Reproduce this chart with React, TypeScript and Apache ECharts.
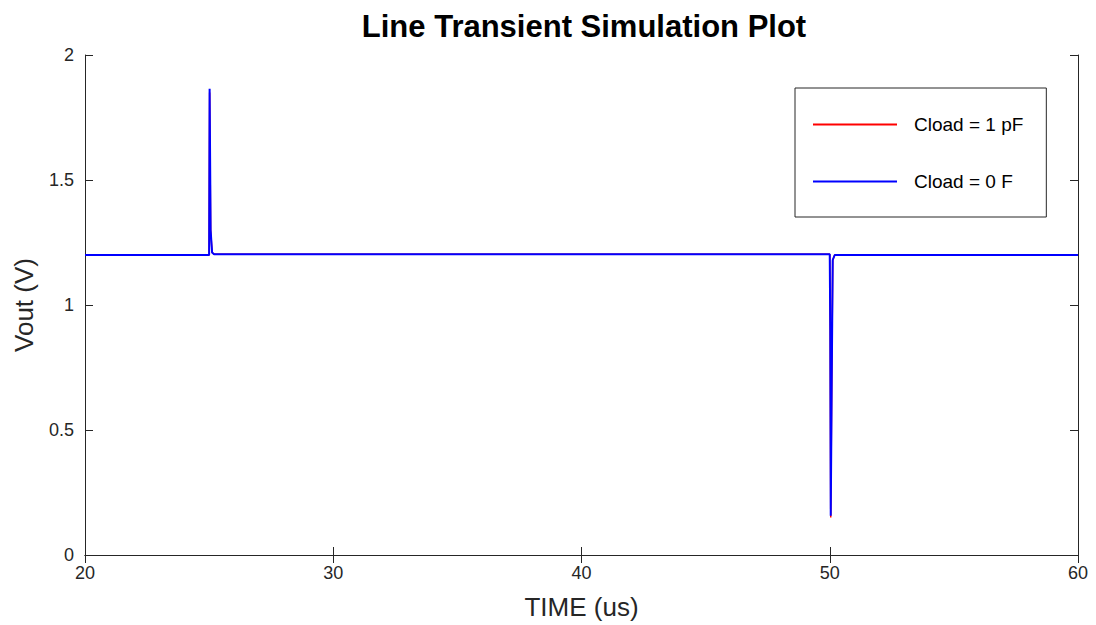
import React, { useEffect, useRef } from "react";
import * as echarts from "echarts";

const titleText = "Line Transient Simulation Plot";
const xLabel = "TIME (us)";
const yLabel = "Vout (V)";
const seriesNames = ["Cload = 1 pF", "Cload = 0 F"];
const seriesColors = ["#ff0000", "#0000ff"];

// time (us)
const timeRed = [20, 25, 25.02, 25.06, 25.12, 25.2, 50, 50.02, 50.04, 50.08, 50.12, 50.2, 60];
const voutRed = [1.2, 1.2, 1.85, 1.3, 1.21, 1.203, 1.203, 0.9, 0.15, 0.7, 1.18, 1.2, 1.2];
const timeBlue = [20, 25, 25.02, 25.06, 25.12, 25.2, 50, 50.02, 50.04, 50.08, 50.12, 50.2, 60];
const voutBlue = [1.2, 1.2, 1.865, 1.3, 1.21, 1.203, 1.203, 0.9, 0.157, 0.7, 1.18, 1.2, 1.2];

const xMin = 20, xMax = 60, xStep = 10;
const yMin = 0, yMax = 2, yStep = 0.5;

export default function App() {
  const ref = useRef<HTMLDivElement>(null);
  useEffect(() => {
    if (!ref.current) return;
    const chart = echarts.init(ref.current, null, { renderer: "svg" });
    const font = "Liberation Sans, Arial, Helvetica, sans-serif";
    const axisColor = "#262626";
    const baseX = {
      type: "value" as const,
      min: xMin,
      max: xMax,
      interval: xStep,
      splitLine: { show: false },
      axisLine: { show: true, lineStyle: { color: axisColor, width: 1 } },
      axisTick: { show: true, inside: true, length: 8, lineStyle: { color: axisColor } },
    };
    const baseY = {
      type: "value" as const,
      min: yMin,
      max: yMax,
      interval: yStep,
      splitLine: { show: false },
      axisLine: { show: true, lineStyle: { color: axisColor, width: 1 } },
      axisTick: { show: true, inside: true, length: 8, lineStyle: { color: axisColor } },
    };
    chart.setOption({
      animation: false,
      backgroundColor: "#ffffff",
      title: {
        text: titleText,
        left: 579,
        textAlign: "center",
        top: 6,
        textStyle: { fontFamily: font, fontSize: 31, fontWeight: "bold", color: "#000" },
      },
      grid: { left: 85, right: 18, top: 55, bottom: 69, containLabel: false },
      legend: {
        orient: "vertical",
        left: 795,
        top: 88,
        padding: [27, 23, 26, 18],
        itemGap: 38,
        itemWidth: 84,
        itemHeight: 2,
        icon: "rect",
        borderColor: axisColor,
        borderWidth: 1,
        backgroundColor: "#fff",
        textStyle: { fontFamily: font, fontSize: 19, color: "#000", padding: [0, 0, 0, 12] },
        data: seriesNames,
      },
      xAxis: [
        {
          ...baseX,
          position: "bottom",
          name: xLabel,
          nameLocation: "middle",
          nameGap: 39,
          nameTextStyle: { fontFamily: font, fontSize: 26, color: axisColor },
          axisLabel: { fontFamily: font, fontSize: 18, color: axisColor, margin: 9 },
        },
        { ...baseX, position: "top", axisLabel: { show: false } },
      ],
      yAxis: [
        {
          ...baseY,
          position: "left",
          name: yLabel,
          nameLocation: "middle",
          nameGap: 48,
          nameTextStyle: { fontFamily: font, fontSize: 26, color: axisColor },
          axisLabel: { fontFamily: font, fontSize: 18, color: axisColor, margin: 11 },
        },
        { ...baseY, position: "right", axisLabel: { show: false } },
      ],
      series: [
        {
          name: seriesNames[0],
          type: "line",
          showSymbol: false,
          symbol: "none",
          color: seriesColors[0],
          lineStyle: { width: 1.5, color: seriesColors[0] },
          data: timeRed.map((t, i) => [t, voutRed[i]]),
        },
        {
          name: seriesNames[1],
          type: "line",
          showSymbol: false,
          symbol: "none",
          color: seriesColors[1],
          lineStyle: { width: 2, color: seriesColors[1] },
          data: timeBlue.map((t, i) => [t, voutBlue[i]]),
        },
      ],
    });
    return () => chart.dispose();
  }, []);
  return <div ref={ref} style={{ width: 1096, height: 625, position: "absolute", left: 0, top: 0 }} />;
}
